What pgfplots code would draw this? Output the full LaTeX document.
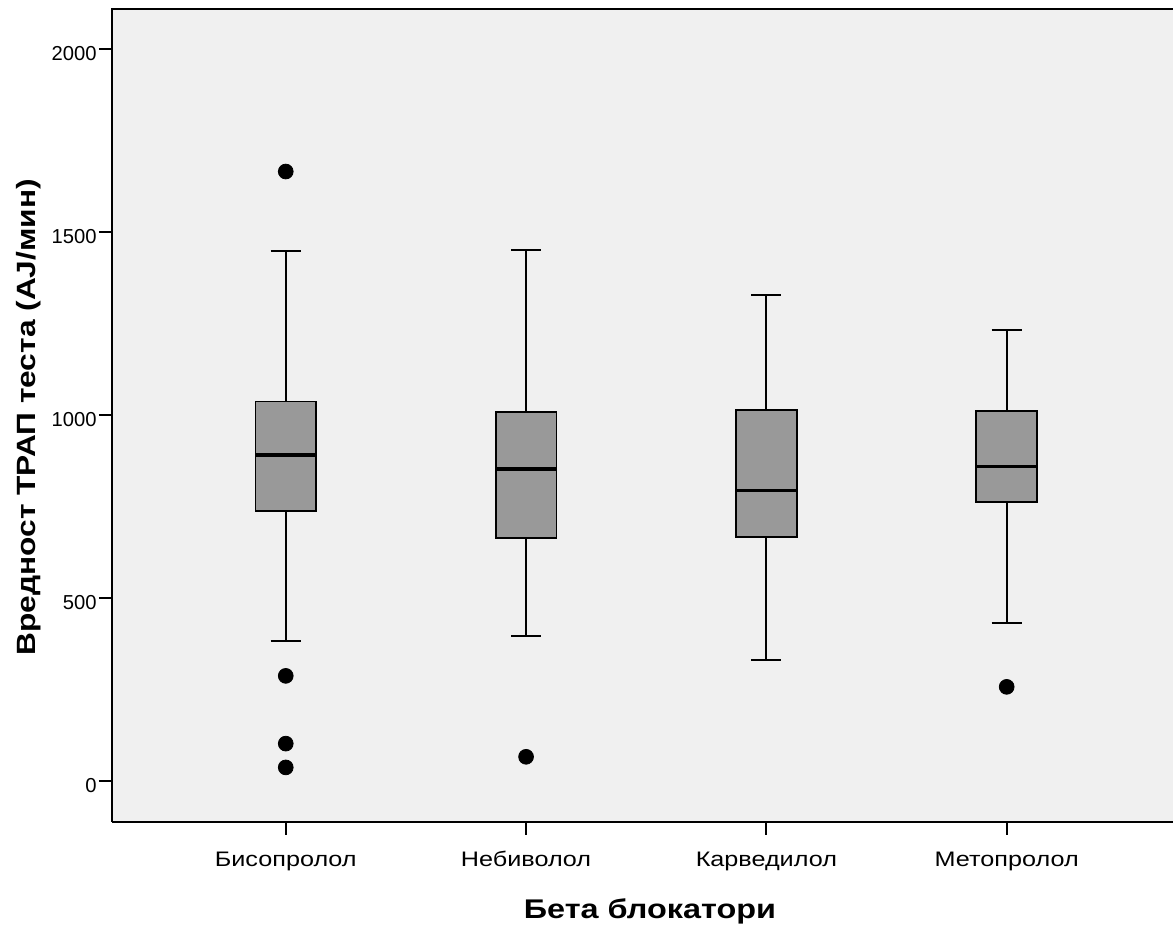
\documentclass[border=0pt]{standalone}
\usepackage{pgfplots}
\pgfplotsset{compat=1.18}
\usetikzlibrary{calc}
\usepackage{fontspec}
\setmainfont{Liberation Sans}
\newfontfamily\widefont[FakeStretch=1.2]{Liberation Sans}

\definecolor{panel}{HTML}{F0F0F0}
\definecolor{boxfill}{HTML}{999999}

\pgfplotsset{
  whisk/.style={draw=black, line width=1pt, mark=none, unbounded coords=jump},
  qbox/.style={fill=boxfill, draw=black, line width=0.9pt, mark=none, line join=miter},
  med/.style={draw=black, line width=1.6pt, mark=none},
  outl/.style={only marks, mark=*, mark size=3.7pt, mark options={fill=black, draw=black}},
}

\begin{document}
\begin{tikzpicture}
\begin{axis}[
  name=ax,
  scale only axis,
  width=530.5pt, height=406.35pt,
  xmin=0.277, xmax=4.692,
  ymin=-111, ymax=2108,
  axis background/.style={fill=panel},
  axis x line*=bottom, axis y line*=left,
  axis line style={line width=1pt, black},
  tick align=outside,
  major tick length=6.5pt,
  tick style={line width=1pt, black},
  xtick={1,2,3,4},
  xticklabels={Бисопролол, Небиволол, Карведилол, Метопролол},
  ytick={0,500,1000,1500,2000},
  /pgf/number format/assume math mode=true,
  /pgf/number format/set thousands separator={},
  yticklabel style={font=\fontsize{10.1}{12}\selectfont, inner sep=1pt, yshift=-2.2pt},
  xticklabel style={font=\widefont\fontsize{10.5}{12}\selectfont,
    text height=7.8pt, text depth=2pt, yshift=-4.3pt},
  xlabel={Бета блокатори},
  ylabel={Вредност ТРАП теста (AJ/мин)},
  xlabel style={font=\widefont\fontsize{13.5}{16}\selectfont\bfseries,
    at={(axis description cs:0.507,0)}, anchor=base, yshift=-48.2pt},
  ylabel style={font=\widefont\fontsize{13.2}{16}\selectfont\bfseries,
    at={(axis description cs:-0.0782,0.498)}, anchor=center},
]
% Бисопролол: whiskers 382 / 1448, quartiles 738 / 1037, median 891
\addplot[whisk] coordinates {(0.9375,382) (1.0625,382) (1,nan) (1,382) (1,738) (1,nan) (1,1037) (1,1448) (1,nan) (0.9375,1448) (1.0625,1448)};
\addplot[qbox] coordinates {(0.87375,738) (1.12625,738) (1.12625,1037) (0.87375,1037)} -- cycle;
\addplot[med] coordinates {(0.87375,891) (1.12625,891)};
\addplot[outl] coordinates {(1,1665) (1,288) (1,103) (1,38)};

% Небиволол: whiskers 397 / 1450, quartiles 665 / 1009, median 853
\addplot[whisk] coordinates {(1.9375,397) (2.0625,397) (2,nan) (2,397) (2,665) (2,nan) (2,1009) (2,1450) (2,nan) (1.9375,1450) (2.0625,1450)};
\addplot[qbox] coordinates {(1.87375,665) (2.12625,665) (2.12625,1009) (1.87375,1009)} -- cycle;
\addplot[med] coordinates {(1.87375,853) (2.12625,853)};
\addplot[outl] coordinates {(2,67)};

% Карведилол: whiskers 331 / 1328, quartiles 667 / 1014, median 795
\addplot[whisk] coordinates {(2.9375,331) (3.0625,331) (3,nan) (3,331) (3,667) (3,nan) (3,1014) (3,1328) (3,nan) (2.9375,1328) (3.0625,1328)};
\addplot[qbox] coordinates {(2.87375,667) (3.12625,667) (3.12625,1014) (2.87375,1014)} -- cycle;
\addplot[med] coordinates {(2.87375,795) (3.12625,795)};

% Метопролол: whiskers 432 / 1233, quartiles 763 / 1012, median 859
\addplot[whisk] coordinates {(3.9375,432) (4.0625,432) (4,nan) (4,432) (4,763) (4,nan) (4,1012) (4,1233) (4,nan) (3.9375,1233) (4.0625,1233)};
\addplot[qbox] coordinates {(3.87375,763) (4.12625,763) (4.12625,1012) (3.87375,1012)} -- cycle;
\addplot[med] coordinates {(3.87375,859) (4.12625,859)};
\addplot[outl] coordinates {(4,258)};
\end{axis}
% top edge of the panel
\draw[line width=1pt, line cap=rect] (ax.north west) -- (ax.north east);
\pgfresetboundingbox
\path[use as bounding box] ($(ax.south west)+(-56pt,-52pt)$) rectangle ($(ax.north east)+(0pt,4.65pt)$);
\end{tikzpicture}
\end{document}
